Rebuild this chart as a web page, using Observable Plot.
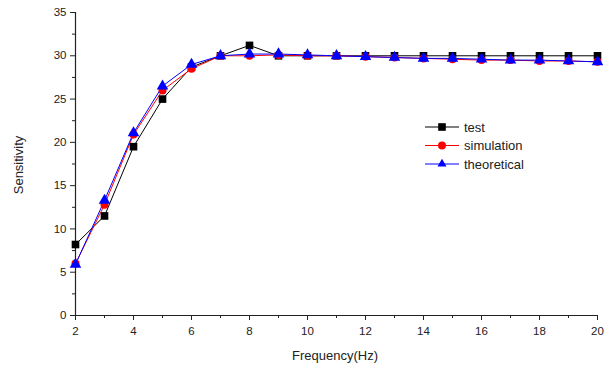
<!DOCTYPE html>
<html><head><meta charset="utf-8">
<script src="https://cdn.jsdelivr.net/npm/d3@7"></script>
<script src="https://cdn.jsdelivr.net/npm/@observablehq/plot@0.6"></script>
<style>
body{margin:0;background:#fff;font-family:"Liberation Sans",Arial,sans-serif;}
#wrap{position:relative;width:609px;height:366px;}
#legend{position:absolute;left:0;top:0;}
</style></head><body>
<div id="wrap"></div>
<script>
const freq = [2,3,4,5,6,7,8,9,10,11,12,13,14,15,16,17,18,19,20];
const test = [8.2,11.5,19.5,25,28.7,30,31.2,30,30,30,30,30,30,30,30,30,30,30,30];
const simulation = [6,12.8,20.9,26,28.5,30,30,30.1,30,30,29.9,29.8,29.7,29.6,29.5,29.5,29.4,29.4,29.3];
const theoretical = [5.9,13.3,21.1,26.5,29,30,30.2,30.2,30.1,30,29.9,29.8,29.7,29.7,29.6,29.5,29.5,29.4,29.3];
const seriesNames = ["test","simulation","theoretical"];
const seriesColors = ["#000000","#ff0000","#0000ff"];
const seriesSymbols = ["square","circle","triangle"];
const xTicks = [2,4,6,8,10,12,14,16,18,20];
const xMinor = [3,5,7,9,11,13,15,17,19];
const yTicks = [0,5,10,15,20,25,30,35];
const yMinor = [2.5,7.5,12.5,17.5,22.5,27.5,32.5];

const all = [test, simulation, theoretical];
const rows = [];
all.forEach((vals, i) => vals.forEach((v, j) => rows.push({x: freq[j], y: v, s: seriesNames[i]})));

const marks = [
  Plot.axisX(xTicks, {tickSize: 5, tickPadding: 6, fontSize: 11.5, label: null, tickFormat: d => d, stroke: "#222", fill: "#222"}),
  Plot.axisX(xMinor, {tickSize: 3, tickFormat: () => "", label: null, stroke: "#222"}),
  Plot.axisY(yTicks, {tickSize: 5, tickPadding: 4, fontSize: 11.5, label: null, stroke: "#222", fill: "#222"}),
  Plot.axisY(yMinor, {tickSize: 3, tickFormat: () => "", label: null, stroke: "#222"}),
  Plot.ruleX([2], {stroke: "#222", strokeWidth: 1.2}),
  Plot.ruleY([0], {stroke: "#222", strokeWidth: 1.2}),
];
seriesNames.forEach((name, i) => {
  const d = rows.filter(r => r.s === name);
  marks.push(Plot.line(d, {x: "x", y: "y", stroke: seriesColors[i], strokeWidth: 1}));
});
seriesNames.forEach((name, i) => {
  const d = rows.filter(r => r.s === name);
  marks.push(Plot.dot(d, {x: "x", y: "y", fill: seriesColors[i], stroke: "none", symbol: () => seriesSymbols[i], r: i === 1 ? 4 : 4.3}));
});

const chart = Plot.plot({
  width: 609, height: 366,
  marginLeft: 75, marginRight: 12, marginTop: 12, marginBottom: 51,
  style: {fontFamily: "Liberation Sans, Arial, sans-serif", fontSize: "11.5px", color: "#222", background: "white"},
  x: {domain: [2, 20]},
  y: {domain: [0, 35]},
  marks
});
document.getElementById("wrap").appendChild(chart);

// axis titles and legend overlay
const svg = d3.select("#wrap").append("svg").attr("id","legend").attr("width",609).attr("height",366)
  .style("font-family","Liberation Sans, Arial, sans-serif");
svg.append("text").attr("x",335).attr("y",360).attr("text-anchor","middle").attr("font-size",13).attr("fill","#222").text("Frequency(Hz)");
svg.append("text").attr("transform","translate(23,165) rotate(-90)").attr("text-anchor","middle").attr("font-size",13).attr("fill","#222").text("Sensitivity");
const lg = svg.append("g").attr("transform","translate(425,127)");
seriesNames.forEach((name, i) => {
  const y = i * 18.5;
  lg.append("line").attr("x1",0).attr("x2",34).attr("y1",y).attr("y2",y).attr("stroke",seriesColors[i]).attr("stroke-width",1);
  const sym = d3.symbol().type(i===0?d3.symbolSquare:(i===1?d3.symbolCircle:d3.symbolTriangle2)).size(i===1?50:58);
  lg.append("path").attr("d",sym()).attr("transform",`translate(17,${y})`).attr("fill",seriesColors[i]);
  lg.append("text").attr("x",39).attr("y",y+4.5).attr("font-size",13).attr("fill","#222").text(name);
});
</script></body></html>
